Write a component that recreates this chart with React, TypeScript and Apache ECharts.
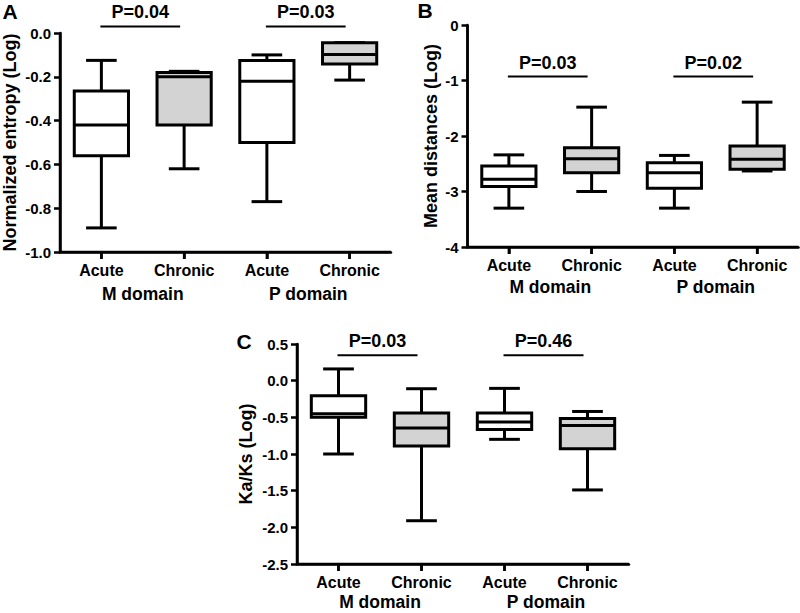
import React, { useEffect, useRef } from 'react';
import * as echarts from 'echarts';

const categories = ['Acute', 'Chronic', 'Acute', 'Chronic'];
const domains = ['M domain', 'P domain'];

// each box: [min, Q1, median, Q3, max]
const entropyBoxes = [
  [-0.89, -0.56, -0.42, -0.265, -0.125],
  [-0.62, -0.42, -0.2, -0.18, -0.175],
  [-0.77, -0.5, -0.22, -0.125, -0.1],
  [-0.215, -0.142, -0.098, -0.044, -0.044],
];
const distanceBoxes = [
  [-3.3, -2.91, -2.78, -2.54, -2.34],
  [-3.0, -2.66, -2.41, -2.21, -1.48],
  [-3.3, -2.94, -2.66, -2.48, -2.35],
  [-2.63, -2.6, -2.42, -2.18, -1.39],
];
const kaksBoxes = [
  [-1.0, -0.5, -0.45, -0.205, 0.16],
  [-1.91, -0.89, -0.645, -0.44, -0.11],
  [-0.8, -0.665, -0.565, -0.44, -0.105],
  [-1.49, -0.93, -0.61, -0.515, -0.42],
];
const boxFills = ['#ffffff', '#d3d3d3', '#ffffff', '#d3d3d3'];

const entropyP = ['P=0.04', 'P=0.03'];
const distanceP = ['P=0.03', 'P=0.02'];
const kaksP = ['P=0.03', 'P=0.46'];
// bracket level for the P-values, in each panel's data units
const entropyBracketY = 0.03;
const distanceBracketY = -0.93;
const kaksBracketY = 0.345;

const FONT = '"Liberation Sans", Arial, Helvetica, sans-serif';
const BLACK = '#000000';

const GRIDS = [
  { left: 59, top: 33, width: 332, height: 219 },
  { left: 467.5, top: 25, width: 331, height: 222 },
  { left: 297, top: 344, width: 332, height: 220 },
];

function boxRender(params: any, api: any) {
  const idx = api.value(0);
  const band = api.size([1, 0])[0];
  const boxW = band * 0.655;
  const capW = band * 0.37;
  const cx = api.coord([idx, 0])[0];
  const y = (k: number) => api.coord([idx, api.value(k)])[1];
  const yMin = y(1), yQ1 = y(2), yMed = y(3), yQ3 = y(4), yMax = y(5);
  const ls = { stroke: BLACK, lineWidth: 3, fill: null };
  return {
    type: 'group',
    children: [
      { type: 'line', shape: { x1: cx, y1: yMax, x2: cx, y2: yQ3 }, style: ls },
      { type: 'line', shape: { x1: cx, y1: yQ1, x2: cx, y2: yMin }, style: ls },
      { type: 'line', shape: { x1: cx - capW / 2, y1: yMax, x2: cx + capW / 2, y2: yMax }, style: ls },
      { type: 'line', shape: { x1: cx - capW / 2, y1: yMin, x2: cx + capW / 2, y2: yMin }, style: ls },
      {
        type: 'rect',
        shape: { x: cx - boxW / 2, y: yQ3, width: boxW, height: yQ1 - yQ3 },
        style: { fill: boxFills[params.dataIndex], stroke: BLACK, lineWidth: 3 },
      },
      { type: 'line', shape: { x1: cx - boxW / 2, y1: yMed, x2: cx + boxW / 2, y2: yMed }, style: ls },
    ],
  };
}

function makeBracketRender(labels: string[]) {
  return (params: any, api: any) => {
    const a = api.coord([api.value(0), api.value(2)]);
    const b = api.coord([api.value(1), api.value(2)]);
    const x1 = a[0] - 1;
    const x2 = b[0] - 4;
    return {
      type: 'group',
      children: [
        { type: 'line', shape: { x1, y1: a[1], x2, y2: a[1] }, style: { stroke: BLACK, lineWidth: 2 } },
        {
          type: 'text',
          x: (x1 + x2) / 2,
          y: a[1] - 14,
          style: {
            text: labels[params.dataIndex],
            fill: BLACK,
            fontFamily: FONT,
            fontWeight: 'bold',
            fontSize: 18,
            align: 'center',
            verticalAlign: 'middle',
          },
        },
      ],
    };
  };
}

// x-axis frame (left side + bottom side as one polyline), ticks, and the
// group label centred under each pair of categories
function makeDomainRender(labelGap: number, yMinValue: number, yMaxValue: number) {
  return (params: any, api: any) => {
    const a = api.coord([api.value(0), yMinValue]);
    const b = api.coord([api.value(1), yMinValue]);
    const band = api.size([1, 0])[0];
    const yb = a[1];
    const yt = api.coord([api.value(0), yMaxValue])[1];
    const left = a[0] - band / 2;
    const right = left + band * 4;
    const tickStyle = { stroke: BLACK, lineWidth: 2.5, fill: null };
    const children: any[] = [
      { type: 'line', shape: { x1: a[0], y1: yb, x2: a[0], y2: yb + 7 }, style: tickStyle },
      { type: 'line', shape: { x1: b[0], y1: yb, x2: b[0], y2: yb + 7 }, style: tickStyle },
      {
        type: 'text',
        x: (a[0] + b[0]) / 2,
        y: yb + labelGap,
        style: {
          text: domains[params.dataIndex],
          fill: BLACK,
          fontFamily: FONT,
          fontWeight: 'bold',
          fontSize: 17.5,
          align: 'center',
          verticalAlign: 'middle',
        },
      },
    ];
    if (params.dataIndex === 0) {
      children.unshift({
        type: 'polyline',
        shape: { points: [[left, yt], [left, yb], [right, yb]] },
        style: { stroke: BLACK, lineWidth: 2.5, fill: null, lineJoin: 'miter' },
      });
    }
    return { type: 'group', children };
  };
}

function panelAxes(gridIndex: number, yName: string, nameGap: number, min: number, max: number, interval: number, digits: number) {
  const xMain = {
    type: 'category',
    gridIndex,
    data: categories,
    position: 'bottom',
    boundaryGap: true,
    axisLine: { show: true, onZero: false, lineStyle: { color: BLACK, width: 2.5 } },
    axisTick: { show: true, alignWithLabel: true, interval: 0, length: 7, lineStyle: { color: BLACK, width: 2.5 } },
    axisLabel: { color: BLACK, fontFamily: FONT, fontWeight: 'bold', fontSize: 16, margin: 10, interval: 0 },
    splitLine: { show: false },
  };
  const yAx = {
    type: 'value',
    gridIndex,
    min,
    max,
    interval,
    name: yName,
    nameLocation: 'middle',
    nameGap,
    nameTextStyle: { color: BLACK, fontFamily: FONT, fontWeight: 'bold', fontSize: 18 },
    axisLine: { show: true, onZero: false, lineStyle: { color: BLACK, width: 2.5 } },
    axisTick: { show: true, length: 6, lineStyle: { color: BLACK, width: 2.5 } },
    axisLabel: {
      color: BLACK,
      fontFamily: FONT,
      fontWeight: 'bold',
      fontSize: 15,
      margin: 9,
      formatter: (v: number) => (Math.abs(v) < 1e-9 ? 0 : v).toFixed(digits),
    },
    splitLine: { show: false },
  };
  return { xMain, yAx };
}

export default function App() {
  const ref = useRef<HTMLDivElement>(null);
  useEffect(() => {
    if (!ref.current) return;
    const chart = echarts.init(ref.current, undefined, { renderer: 'svg' });
    const A = panelAxes(0, 'Normalized entropy (Log)', 41, -1, 0, 0.2, 1);
    const B = panelAxes(1, 'Mean distances (Log)', 28, -4, 0, 1, 0);
    const C = panelAxes(2, 'Ka/Ks (Log)', 42, -2.5, 0.5, 0.5, 1);
    const toData = (boxes: number[][]) => boxes.map((b, i) => [i, ...b]);
    const boxSeries = (axisIndex: number, boxes: number[][]) => ({
      type: 'custom',
      xAxisIndex: axisIndex,
      yAxisIndex: axisIndex,
      clip: false,
      z: 5,
      renderItem: boxRender,
      encode: { x: 0, y: [1, 2, 3, 4, 5] },
      data: toData(boxes),
      silent: true,
    });
    const bracketSeries = (axisIndex: number, labels: string[], level: number) => ({
      type: 'custom',
      xAxisIndex: axisIndex,
      yAxisIndex: axisIndex,
      clip: false,
      z: 5,
      renderItem: makeBracketRender(labels),
      encode: { x: [0, 1], y: 2 },
      data: [
        [0, 1, level],
        [2, 3, level],
      ],
      silent: true,
    });
    const domainSeries = (axisIndex: number, labelGap: number, yMinValue: number, yMaxValue: number) => ({
      type: 'custom',
      xAxisIndex: axisIndex,
      yAxisIndex: axisIndex,
      clip: false,
      z: 100,
      renderItem: makeDomainRender(labelGap, yMinValue, yMaxValue),
      encode: { x: [0, 1] },
      data: [
        [0, 1],
        [2, 3],
      ],
      silent: true,
    });
    const letter = (text: string, x: number, y: number) => ({
      type: 'text',
      x,
      y,
      style: {
        text,
        fill: BLACK,
        fontFamily: FONT,
        fontWeight: 'bold',
        fontSize: 21,
        align: 'center',
        verticalAlign: 'middle',
      },
    });
    chart.setOption({
      animation: false,
      backgroundColor: '#ffffff',
      grid: GRIDS,
      xAxis: [A.xMain, B.xMain, C.xMain],
      yAxis: [A.yAx, B.yAx, C.yAx],
      series: [
        boxSeries(0, entropyBoxes),
        bracketSeries(0, entropyP, entropyBracketY),
        domainSeries(0, 42, -1, 0),
        boxSeries(1, distanceBoxes),
        bracketSeries(1, distanceP, distanceBracketY),
        domainSeries(1, 40, -4, 0),
        boxSeries(2, kaksBoxes),
        bracketSeries(2, kaksP, kaksBracketY),
        domainSeries(2, 38, -2.5, 0.5),
      ],
      graphic: [letter('A', 10, 11), letter('B', 425, 10), letter('C', 244, 341)],
    });
    return () => chart.dispose();
  }, []);
  return (
    <div
      ref={ref}
      style={{ position: 'absolute', left: 0, top: 0, width: 800, height: 613, background: '#ffffff' }}
    />
  );
}
